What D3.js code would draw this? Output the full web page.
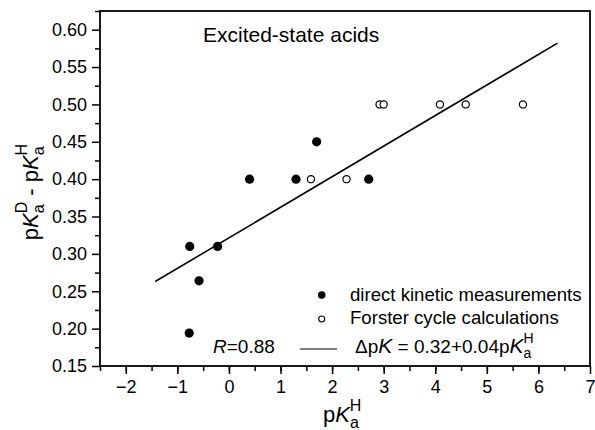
<!DOCTYPE html>
<html>
<head>
<meta charset="utf-8">
<script src="https://cdn.jsdelivr.net/npm/d3@7"></script>
<style>
  body { margin: 0; background: #fff; }
  text { font-family: "Liberation Sans", Arial, sans-serif; fill: #000; }
  .axis path, .axis line { stroke: #000; stroke-width: 1.5; }
  .axis text { font-size: 18px; }
</style>
</head>
<body>
<div id="chart-area"></div>
<script>
// direct kinetic measurements (filled)
var directX = [-0.76, -0.77, -0.58, -0.22, 0.40, 1.30, 1.70, 2.71];
var directY = [0.310, 0.194, 0.264, 0.310, 0.400, 0.400, 0.450, 0.400];
// Forster cycle calculations (open)
var forsterX = [1.59, 2.28, 2.92, 3.00, 4.09, 4.59, 5.70];
var forsterY = [0.400, 0.400, 0.500, 0.500, 0.500, 0.500, 0.500];
// fitted line dpK = 0.32 + 0.04 pKa
var fitX = [-1.43, 6.37];
var fitY = [0.263, 0.582];

var xTicks = [-2, -1, 0, 1, 2, 3, 4, 5, 6, 7];
var yTicks = [0.15, 0.20, 0.25, 0.30, 0.35, 0.40, 0.45, 0.50, 0.55, 0.60];

var margin = { left: 100, right: 5, top: 11, bottom: 64 };
var width = 595 - margin.left - margin.right;
var height = 430 - margin.top - margin.bottom;

var svg = d3.select("#chart-area")
    .append("svg")
    .attr("width", 595)
    .attr("height", 430);

var g = svg.append("g")
    .attr("transform", "translate(" + margin.left + "," + margin.top + ")");

var x = d3.scaleLinear().domain([-2.5, 7]).range([0, width]);
var y = d3.scaleLinear().domain([0.15, 0.625]).range([height, 0]);

// minor ticks
g.append("g")
    .attr("class", "axis")
    .attr("transform", "translate(0," + height + ")")
    .call(d3.axisBottom(x).tickValues(d3.range(-2.5, 7, 0.5)).tickSize(5).tickFormat(""))
    .select(".domain").remove();
g.append("g")
    .attr("class", "axis")
    .call(d3.axisLeft(y).tickValues(d3.range(0, 10).map(function(i) { return 0.175 + i * 0.05; })).tickSize(5).tickFormat(""))
    .select(".domain").remove();

// major ticks
var xAxisGroup = g.append("g")
    .attr("class", "axis")
    .attr("transform", "translate(0," + height + ")")
    .call(d3.axisBottom(x).tickValues(xTicks).tickSize(8).tickSizeOuter(0).tickPadding(6));
xAxisGroup.select(".domain").remove();

var yAxisGroup = g.append("g")
    .attr("class", "axis")
    .call(d3.axisLeft(y).tickValues(yTicks).tickSize(8).tickSizeOuter(0).tickPadding(5)
        .tickFormat(d3.format(".2f")));
yAxisGroup.select(".domain").remove();

// frame
g.append("rect")
    .attr("x", 0)
    .attr("y", 0)
    .attr("width", width)
    .attr("height", height)
    .attr("fill", "none")
    .attr("stroke", "#000")
    .attr("stroke-width", 1.8);

// fit line
var line = d3.line()
    .x(function(d) { return x(d[0]); })
    .y(function(d) { return y(d[1]); });
g.append("path")
    .datum(d3.zip(fitX, fitY))
    .attr("d", line)
    .attr("fill", "none")
    .attr("stroke", "#000")
    .attr("stroke-width", 1.6);

// points
g.selectAll(".direct")
    .data(d3.zip(directX, directY))
    .enter()
    .append("circle")
    .attr("class", "direct")
    .attr("cx", function(d) { return x(d[0]); })
    .attr("cy", function(d) { return y(d[1]); })
    .attr("r", 4.6)
    .attr("fill", "#000");

g.selectAll(".forster")
    .data(d3.zip(forsterX, forsterY))
    .enter()
    .append("circle")
    .attr("class", "forster")
    .attr("cx", function(d) { return x(d[0]); })
    .attr("cy", function(d) { return y(d[1]); })
    .attr("r", 3.6)
    .attr("fill", "#fff")
    .attr("stroke", "#000")
    .attr("stroke-width", 1.2);

// title
g.append("text")
    .attr("x", 103)
    .attr("y", 31)
    .attr("font-size", "21px")
    .text("Excited-state acids");

// legend
g.append("circle").attr("cx", 221.7).attr("cy", 284).attr("r", 3.8).attr("fill", "#000");
g.append("circle").attr("cx", 221.7).attr("cy", 308).attr("r", 3).attr("fill", "#fff")
    .attr("stroke", "#000").attr("stroke-width", 1.1);
g.append("text").attr("x", 250).attr("y", 290).attr("font-size", "18.6px")
    .text("direct kinetic measurements");
g.append("text").attr("x", 250).attr("y", 313).attr("font-size", "18.6px")
    .text("Forster cycle calculations");

var rText = g.append("text").attr("x", 113).attr("y", 342).attr("font-size", "19px");
rText.append("tspan").attr("font-style", "italic").text("R");
rText.append("tspan").text("=0.88");

g.append("line")
    .attr("x1", 200).attr("x2", 237)
    .attr("y1", 338).attr("y2", 338)
    .attr("stroke", "#000").attr("stroke-width", 1.1);

var eq = g.append("text").attr("x", 255).attr("y", 342).attr("font-size", "19px");
eq.append("tspan").text("\u0394p");
eq.append("tspan").attr("font-style", "italic").attr("font-size", "21px").text("K");
eq.append("tspan").text(" = 0.32+0.04p");
eq.append("tspan").attr("font-style", "italic").attr("font-size", "21px").text("K");
eq.append("tspan").attr("font-size", "14px").attr("dy", 5).text("a");
eq.append("tspan").attr("font-size", "14px").attr("dx", -8).attr("dy", -15).text("H");

// x label
var xLabel = svg.append("text")
    .attr("x", 323)
    .attr("y", 422)
    .attr("font-size", "22px");
xLabel.append("tspan").text("p");
xLabel.append("tspan").attr("font-style", "italic").text("K");
xLabel.append("tspan").attr("font-size", "16px").attr("dy", 6).text("a");
xLabel.append("tspan").attr("font-size", "16px").attr("dx", -9).attr("dy", -17).text("H");

// y label
var yLabel = svg.append("text")
    .attr("transform", "translate(38,192) rotate(-90)")
    .attr("text-anchor", "middle")
    .attr("font-size", "22px");
yLabel.append("tspan").text("p");
yLabel.append("tspan").attr("font-style", "italic").text("K");
yLabel.append("tspan").attr("font-size", "16px").attr("dy", 6).text("a");
yLabel.append("tspan").attr("font-size", "16px").attr("dx", -9).attr("dy", -17).text("D");
yLabel.append("tspan").attr("dy", 11).text(" - p");
yLabel.append("tspan").attr("font-style", "italic").text("K");
yLabel.append("tspan").attr("font-size", "16px").attr("dy", 6).text("a");
yLabel.append("tspan").attr("font-size", "16px").attr("dx", -9).attr("dy", -17).text("H");
</script>
</body>
</html>
